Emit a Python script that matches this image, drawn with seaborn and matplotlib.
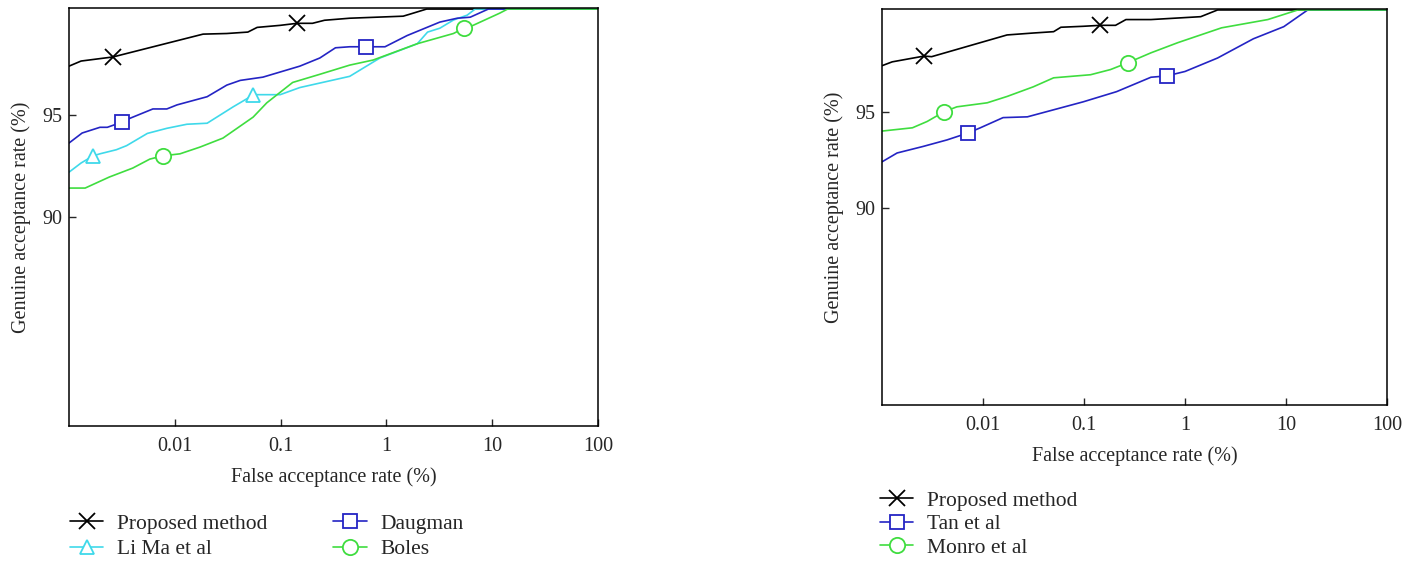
import seaborn as sns
import pandas as pd
import matplotlib.pyplot as plt

sns.set_theme(style="white")
plt.rcParams['font.family'] = ['Liberation Serif', 'DejaVu Serif']
FS = 14.5
LFS = 15.5

# left panel data (FAR %, GAR %)
prop_l_x = [0.001, 0.0013, 0.0026, 0.0185, 0.031, 0.049, 0.06, 0.099, 0.143, 0.2, 0.26, 0.45, 1.44, 1.67, 2.4, 100]
prop_l_y = [97.4, 97.65, 97.85, 98.97, 99.0, 99.07, 99.3, 99.4, 99.5, 99.5, 99.65, 99.75, 99.85, 99.95, 100.2, 100.2]
prop_l_mk = [2, 8]

daug_x = [0.001, 0.00133, 0.00196, 0.0023, 0.0032, 0.0038, 0.0062, 0.0084, 0.0105, 0.0202, 0.031, 0.0415,
          0.068, 0.152, 0.235, 0.33, 0.45, 0.64, 0.97, 1.57, 3.2, 4.67, 6.2, 9.2, 100]
daug_y = [93.63, 94.12, 94.4, 94.4, 94.66, 94.85, 95.3, 95.3, 95.5, 95.9, 96.47, 96.7,
          96.86, 97.4, 97.8, 98.3, 98.35, 98.35, 98.35, 98.9, 99.56, 99.75, 99.8, 100.2, 100.2]
daug_mk = [4, 17]

lima_x = [0.001, 0.0013, 0.00169, 0.00196, 0.0028, 0.0035, 0.0055, 0.0084, 0.013, 0.0202, 0.0355, 0.048,
          0.055, 0.074, 0.099, 0.152, 0.45, 0.75, 0.87, 1.96, 2.45, 3.2, 4.3, 5.8, 6.9, 100]
lima_y = [92.2, 92.65, 93.0, 93.1, 93.3, 93.5, 94.1, 94.35, 94.55, 94.6, 95.4, 95.8,
          96.0, 96.0, 96.0, 96.35, 96.9, 97.6, 97.8, 98.5, 99.07, 99.26, 99.66, 99.9, 100.2, 100.2]
lima_mk = [2, 12]

boles_x = [0.001, 0.00142, 0.0024, 0.004, 0.0058, 0.0077, 0.0112, 0.0173, 0.0285, 0.055, 0.074, 0.13,
           0.235, 0.45, 0.75, 1.96, 4.3, 5.4, 6.6, 11.8, 14, 100]
boles_y = [91.42, 91.42, 91.96, 92.4, 92.84, 93.0, 93.1, 93.43, 93.87, 94.9, 95.6, 96.6,
           97.0, 97.45, 97.7, 98.5, 99.0, 99.26, 99.4, 100.0, 100.2, 100.2]
boles_mk = [5, 17]

# right panel data
prop_r_x = [0.001, 0.00126, 0.0026, 0.0031, 0.0173, 0.0314, 0.05, 0.059, 0.098, 0.145, 0.205, 0.26, 0.46, 1.43, 2.1, 100]
prop_r_y = [97.4, 97.6, 97.9, 97.87, 99.0, 99.1, 99.17, 99.4, 99.45, 99.5, 99.5, 99.8, 99.8, 99.95, 100.3, 100.3]
prop_r_mk = [2, 9]

tan_x = [0.001, 0.00141, 0.00255, 0.0044, 0.0071, 0.0094, 0.0158, 0.0275, 0.098, 0.21, 0.46, 0.66,
         1.0, 2.1, 4.75, 9.5, 16.4, 100]
tan_y = [92.4, 92.86, 93.2, 93.54, 93.9, 94.17, 94.7, 94.74, 95.52, 96.05, 96.8, 96.87,
         97.1, 97.8, 98.8, 99.43, 100.3, 100.3]
tan_mk = [4, 11]

monro_x = [0.001, 0.002, 0.0028, 0.0041, 0.0055, 0.011, 0.0173, 0.0314, 0.05, 0.116, 0.183, 0.27,
           0.46, 0.85, 2.3, 6.6, 13.1, 100]
monro_y = [94.0, 94.17, 94.5, 95.0, 95.26, 95.47, 95.8, 96.3, 96.77, 96.93, 97.2, 97.55,
           98.07, 98.6, 99.37, 99.8, 100.3, 100.3]
monro_mk = [3, 11]

BLACK, CYAN, BLUE, GREEN = "black", "#3fd9ea", "#2424c4", "#3fdd3f"

fig = plt.figure(figsize=(14.09, 5.69), dpi=100)
ax1 = fig.add_axes([0.049, 0.2513, 0.3754, 0.7346])
ax2 = fig.add_axes([0.626, 0.2882, 0.3584, 0.696])


def draw(ax, x, y, mk, color, marker, label, ms=10):
    df = pd.DataFrame({"far": x, "gar": y})
    sns.lineplot(data=df, x="far", y="gar", ax=ax, color=color, lw=1.2, sort=False,
                 estimator=None, marker=marker, markevery=mk, ms=ms,
                 mfc="white" if marker != "x" else color, mec=color, mew=1.3, label=label)


draw(ax1, prop_l_x, prop_l_y, prop_l_mk, BLACK, "x", "Proposed method", ms=11)
draw(ax1, lima_x, lima_y, lima_mk, CYAN, "^", "Li Ma et al")
draw(ax1, daug_x, daug_y, daug_mk, BLUE, "s", "Daugman")
draw(ax1, boles_x, boles_y, boles_mk, GREEN, "o", "Boles", ms=11)

draw(ax2, prop_r_x, prop_r_y, prop_r_mk, BLACK, "x", "Proposed method", ms=11)
draw(ax2, tan_x, tan_y, tan_mk, BLUE, "s", "Tan et al")
draw(ax2, monro_x, monro_y, monro_mk, GREEN, "o", "Monro et al", ms=11)

for ax, ylim, lp in [(ax1, (79.75, 100.25), 8), (ax2, (79.75, 100.35), 8)]:
    ax.set_xscale("log")
    ax.set_xlim(0.001, 100)
    ax.set_ylim(*ylim)
    ax.set_xticks([0.01, 0.1, 1, 10, 100])
    ax.set_xticklabels(["0.01", "0.1", "1", "10", "100"])
    ax.minorticks_off()
    ax.set_yticks([90, 95])
    ax.tick_params(axis="x", direction="in", length=5, width=1, pad=8, labelsize=FS, bottom=True)
    ax.tick_params(axis="y", direction="in", length=5, width=1, pad=5, labelsize=FS, left=True)
    for s in ax.spines.values():
        s.set_color("black")
        s.set_linewidth(1.1)
    ax.set_xlabel("False acceptance rate (%)", fontsize=FS, labelpad=lp)
    ax.set_ylabel("Genuine acceptance rate (%)", fontsize=FS, labelpad=8)
    ax.get_legend().remove()

h1, l1 = ax1.get_legend_handles_labels()
fig.legend(h1, l1, loc="center left", bbox_to_anchor=(0.0497, 0.057), ncol=2, frameon=False,
           fontsize=LFS, borderpad=0, borderaxespad=0, handlelength=1.55, handletextpad=0.65,
           columnspacing=3.05, labelspacing=0.26)
h2, l2 = ax2.get_legend_handles_labels()
fig.legend(h2, l2, loc="center left", bbox_to_anchor=(0.6245, 0.079), ncol=1, frameon=False,
           fontsize=LFS, borderpad=0, borderaxespad=0, handlelength=1.55, handletextpad=0.65,
           labelspacing=0.16)

plt.savefig("out.png", dpi=100)
